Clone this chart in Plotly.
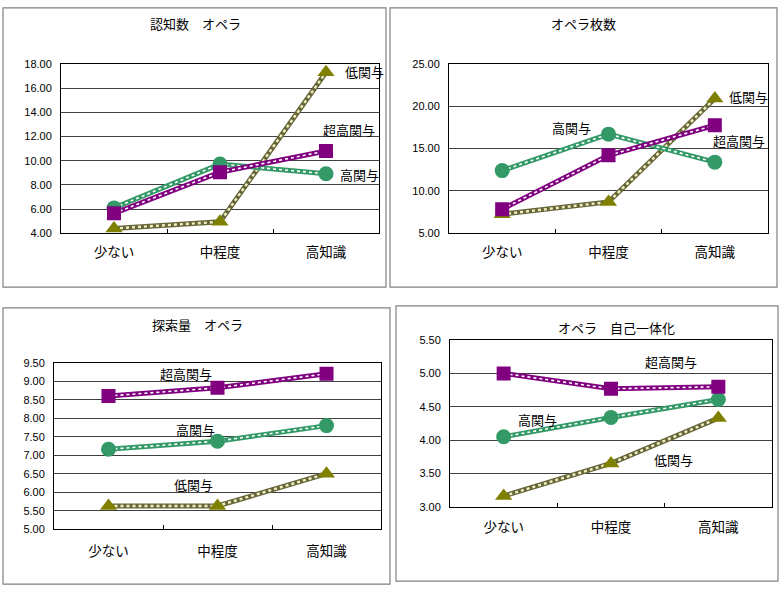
import plotly.graph_objects as go

W, H = 784, 596

categories = ["少ない", "中程度", "高知識"]
series_names = ["低関与", "高関与", "超高関与"]

titles = ["認知数　オペラ", "オペラ枚数", "探索量　オペラ", "オペラ　自己一体化"]

# values per panel: 低関与, 高関与, 超高関与
p1_low = [4.4, 4.95, 17.3]
p1_high = [6.1, 9.72, 8.92]
p1_super = [5.65, 9.05, 10.8]

p2_low = [7.25, 8.7, 20.9]
p2_high = [12.4, 16.7, 13.4]
p2_super = [7.85, 14.2, 17.75]

p3_low = [5.63, 5.63, 6.5]
p3_high = [7.16, 7.38, 7.8]
p3_super = [8.6, 8.82, 9.2]

p4_low = [3.16, 3.65, 4.33]
p4_high = [4.05, 4.34, 4.61]
p4_super = [5.0, 4.77, 4.8]

y_ranges = [[4, 18], [5, 25], [5, 9.5], [3, 5.5]]
y_dtick = [2, 5, 0.5, 0.5]

panel_data = [
    [p1_low, p1_high, p1_super],
    [p2_low, p2_high, p2_super],
    [p3_low, p3_high, p3_super],
    [p4_low, p4_high, p4_super],
]

# plot areas in pixels (left, top, right, bottom)
plot_px = [(61, 59, 379, 232), (449, 59, 768, 232), (54, 364, 381, 534), (450, 341, 772, 511)]
frame_px = [(3, 2, 386, 287), (390, 2, 777, 287), (3, 308, 390, 590), (396, 306, 778, 587)]
title_px = [(195, 18), (583, 18), (198, 325), (616, 328)]
xlabel_standoff = [6, 6, 10, 8]

colors = {"低関与": "#808000", "高関与": "#339966", "超高関与": "#800080"}
line_base = {"低関与": "#66663a", "高関与": "#339966", "超高関与": "#800080"}
line_over = {"低関与": "#efefc0", "高関与": "#ffffff", "超高関与": "#ffffff"}
over_width = {"低関与": 2.4, "高関与": 1.6, "超高関与": 1.6}
symbols = {"低関与": "triangle-up", "高関与": "circle", "超高関与": "square"}
msize = {"低関与": 15, "高関与": 15, "超高関与": 14}

# series label annotations: (panel, series, category, y, xshift, xanchor)
labels = [
    (0, "低関与", "高知識", 17.35, 17, "left"),
    (0, "超高関与", "高知識", 12.58, -5, "left"),
    (0, "高関与", "高知識", 8.85, 12, "left"),
    (1, "低関与", "高知識", 21.2, 12, "left"),
    (1, "超高関与", "高知識", 15.98, -4, "left"),
    (1, "高関与", "中程度", 17.49, -37, "center"),
    (2, "超高関与", "中程度", 9.21, -32, "center"),
    (2, "高関与", "中程度", 7.70, -22, "center"),
    (2, "低関与", "中程度", 6.22, -24, "center"),
    (3, "超高関与", "中程度", 5.18, 60, "center"),
    (3, "高関与", "少ない", 4.31, 34, "center"),
    (3, "低関与", "中程度", 3.71, 62, "center"),
]

JP = "Noto Sans CJK JP"
NUM = "Liberation Sans"

fig = go.Figure()
layout = dict(
    width=W, height=H, margin=dict(l=0, r=0, t=0, b=0),
    paper_bgcolor="white", plot_bgcolor="white", showlegend=False,
)
shapes = []
annotations = []

for i in range(4):
    n = "" if i == 0 else str(i + 1)
    xa, ya = "x" + n, "y" + n
    l, t, r, b = plot_px[i]
    layout["xaxis" + n] = dict(
        domain=[l / W, r / W], anchor=ya, type="category",
        categoryorder="array", categoryarray=categories,
        range=[-0.5, len(categories) - 0.5], autorange=False,
        tickson="boundaries", ticks="inside", ticklen=4, tickcolor="black",
        showline=True, linecolor="black", linewidth=1, mirror=True,
        showgrid=False, zeroline=False, fixedrange=True,
        tickfont=dict(family=JP, size=13.5, color="black"), ticklabelstandoff=xlabel_standoff[i],
    )
    layout["yaxis" + n] = dict(
        domain=[1 - b / H, 1 - t / H], anchor=xa, range=y_ranges[i],
        dtick=y_dtick[i], tick0=y_ranges[i][0], tickformat=".2f",
        showline=True, linecolor="black", linewidth=1, mirror=True,
        showgrid=True, gridcolor="#404040", gridwidth=1, zeroline=False,
        ticks="", tickfont=dict(family=NUM, size=11, color="black"),
        ticklabelstandoff=6, fixedrange=True,
    )
    for name, vals in zip(series_names, panel_data[i]):
        fig.add_trace(go.Scatter(x=categories, y=vals, mode="lines", xaxis=xa, yaxis=ya,
                                 line=dict(color=line_base[name], width=5), hoverinfo="skip"))
        fig.add_trace(go.Scatter(x=categories, y=vals, mode="lines", xaxis=xa, yaxis=ya,
                                 line=dict(color=line_over[name], width=over_width[name], dash="dot"),
                                 hoverinfo="skip"))
    for name, vals in zip(series_names, panel_data[i]):
        fig.add_trace(go.Scatter(x=categories, y=vals, mode="markers", xaxis=xa, yaxis=ya, name=name,
                                 marker=dict(color=colors[name], symbol=symbols[name], size=msize[name],
                                             line=dict(width=0))))
    fl, ft, fr, fb = frame_px[i]
    shapes.append(dict(type="rect", xref="paper", yref="paper",
                       x0=fl / W, x1=fr / W, y0=1 - fb / H, y1=1 - ft / H,
                       line=dict(color="#808080", width=1.2), layer="below"))
    tx, ty = title_px[i]
    annotations.append(dict(text=titles[i], xref="paper", yref="paper", x=tx / W, y=1 - ty / H,
                            showarrow=False, xanchor="center", yanchor="middle",
                            font=dict(family=JP, size=13, color="black")))

for (p, name, cat, yv, xs, xanc) in labels:
    n = "" if p == 0 else str(p + 1)
    annotations.append(dict(text=name, xref="x" + n, yref="y" + n, x=cat, y=yv, xshift=xs,
                            xanchor=xanc, yanchor="middle", showarrow=False,
                            font=dict(family=JP, size=13, color="black")))

layout["shapes"] = shapes
layout["annotations"] = annotations
fig.update_layout(**layout)
fig.write_html("out.html")
